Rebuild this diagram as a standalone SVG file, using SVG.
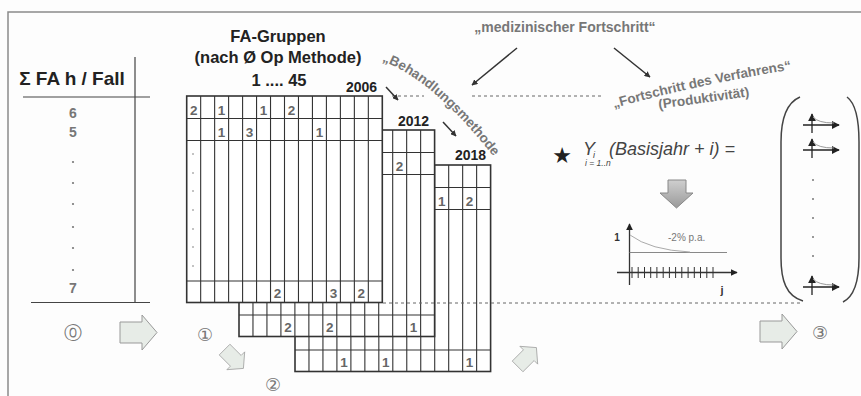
<svg xmlns="http://www.w3.org/2000/svg" width="861" height="396" viewBox="0 0 861 396">
<style>
text{font-family:"Liberation Sans",Arial,sans-serif}
.hd{font-size:16.5px;font-weight:bold;fill:#222;text-anchor:middle}
.yr{font-size:14px;font-weight:bold;fill:#222}
.num{font-size:13.5px;font-weight:bold;fill:#666;text-anchor:middle}
.tn{font-size:14px;font-weight:bold;fill:#777;text-anchor:middle}
.gl{stroke:#333;stroke-width:1.1;fill:none}
.gb{stroke:#333;stroke-width:1.6;fill:#fff}
.lbl{font-size:13.5px;font-weight:bold;fill:#777}
.circ{font-family:"DejaVu Sans",sans-serif;font-size:18px;fill:#777;text-anchor:middle}
.dash{stroke:#666;stroke-width:1;stroke-dasharray:3 3;fill:none}
.arr{stroke:#333;stroke-width:1.5;fill:none;marker-end:url(#ah)}
.blk{fill:#e7ece7;stroke:#999;stroke-width:1}
.ax{stroke:#333;stroke-width:1.3;fill:none}
.dot{fill:#777}
</style>
<defs>
<marker id="ah" viewBox="0 0 10 10" refX="9" refY="5" markerWidth="6" markerHeight="6" orient="auto" markerUnits="userSpaceOnUse">
<path d="M0 0L10 5L0 10z" fill="#333"/>
</marker>
<marker id="ah2" viewBox="0 0 10 10" refX="9" refY="5" markerWidth="7" markerHeight="7" orient="auto" markerUnits="userSpaceOnUse">
<path d="M0 0L10 5L0 10z" fill="#222"/>
</marker>
<marker id="ah3" viewBox="0 0 10 10" refX="9" refY="5" markerWidth="8" markerHeight="8" orient="auto" markerUnits="userSpaceOnUse">
<path d="M0 0L10 5L0 10z" fill="#222"/>
</marker>
<g id="gridT">
<rect x="0" y="0" width="195.6" height="206.5" class="gb"/>
<path class="gl" d="M0 22.5H195.6M0 44.5H195.6M0 185H195.6M13.97 0V206.5M27.94 0V206.5M41.91 0V206.5M55.89 0V206.5M69.86 0V206.5M83.83 0V206.5M97.8 0V206.5M111.77 0V206.5M125.74 0V206.5M139.71 0V206.5M153.69 0V206.5M167.66 0V206.5M181.63 0V206.5"/>
</g>
<polygon id="blkArrow" points="-18.5,-10.5 3.5,-10.5 3.5,-17.5 18.5,0 3.5,17.5 3.5,10.5 -18.5,10.5"/>
<g id="mini">
<path d="M812 8V-11" stroke="#222" stroke-width="1.3" marker-end="url(#ah3)"/>
<path d="M803 0H839" stroke="#222" stroke-width="1.3" marker-end="url(#ah3)"/>
<path d="M813 -8Q818 -2 834 -2" stroke="#999" stroke-width="1" fill="none"/>
</g>
<linearGradient id="gg" x1="0" y1="0" x2="0" y2="1">
<stop offset="0" stop-color="#cfcfcf"/>
<stop offset="1" stop-color="#9a9a9a"/>
</linearGradient>
</defs>

<rect x="0" y="0" width="861" height="396" fill="#fdfdfd"/>
<rect id="frame" x="8" y="12" width="870" height="400" fill="none" stroke="#8a8a8a" stroke-width="1.5"/>

<g id="table">
<text x="72" y="85" style="font-size:19px;font-weight:bold;fill:#222" text-anchor="middle">Σ FA h / Fall</text>
<path d="M135 57V303M23 97H150M31 302.5H150" stroke="#444" stroke-width="1.2" fill="none"/>
<text class="tn" x="73" y="118">6</text>
<text class="tn" x="73" y="137">5</text>
<circle class="dot" cx="73" cy="162" r="1.1"/>
<circle class="dot" cx="73" cy="183" r="1.1"/>
<circle class="dot" cx="73" cy="204" r="1.1"/>
<circle class="dot" cx="73" cy="227" r="1.1"/>
<circle class="dot" cx="73" cy="248" r="1.1"/>
<circle class="dot" cx="73" cy="270" r="1.1"/>
<text class="tn" x="73" y="293">7</text>
</g>

<g id="header">
<text class="hd" x="278" y="42">FA-Gruppen</text>
<text class="hd" x="278" y="63">(nach Ø Op Methode)</text>
<text class="hd" x="279" y="86">1 .... 45</text>
</g>

<g id="grid2018">
<use href="#gridT" x="295" y="165"/>
<text class="num" x="441.7" y="205.5">1</text>
<text class="num" x="469.6" y="205.5">2</text>
<text class="num" x="343.9" y="366.5">1</text>
<text class="num" x="385.8" y="366.5">1</text>
<text class="num" x="469.6" y="366.5">1</text>
<text class="yr" x="455" y="160">2018</text>
</g>

<g id="grid2012">
<use href="#gridT" x="239" y="130"/>
<text class="num" x="399.6" y="170.5">2</text>
<text class="num" x="287.9" y="331.5">2</text>
<text class="num" x="329.8" y="331.5">2</text>
<text class="num" x="413.6" y="331.5">1</text>
<text class="yr" x="398" y="126">2012</text>
</g>

<g id="grid2006">
<use href="#gridT" x="186.7" y="96"/>
<text class="num" x="193.7" y="115">2</text>
<text class="num" x="221.6" y="115">1</text>
<text class="num" x="263.5" y="115">1</text>
<text class="num" x="291.5" y="115">2</text>
<text class="num" x="221.6" y="136.5">1</text>
<text class="num" x="249.6" y="136.5">3</text>
<text class="num" x="319.4" y="136.5">1</text>
<text class="num" x="277.5" y="297.5">2</text>
<text class="num" x="333.4" y="297.5">3</text>
<text class="num" x="361.3" y="297.5">2</text>
<circle class="dot" cx="193" cy="154" r="0.8"/>
<circle class="dot" cx="193" cy="173" r="0.8"/>
<circle class="dot" cx="193" cy="191" r="0.8"/>
<circle class="dot" cx="193" cy="210" r="0.8"/>
<circle class="dot" cx="193" cy="229" r="0.8"/>
<circle class="dot" cx="193" cy="247" r="0.8"/>
<circle class="dot" cx="193" cy="266" r="0.8"/>
<text class="yr" x="346" y="92">2006</text>
</g>

<g id="labels">
<text class="lbl" x="565" y="32" text-anchor="middle" style="font-size:14px">„medizinischer Fortschritt“</text>
<path id="bhPath" d="M382 61Q432 79 494 157" fill="none"/>
<text class="lbl"><textPath href="#bhPath">„Behandlungsmethode“</textPath></text>
<path id="fsPath" d="M614 108Q700 84 790 70" fill="none"/>
<text class="lbl"><textPath href="#fsPath">„Fortschritt des Verfahrens“</textPath></text>
<text class="lbl" x="0" y="0" transform="translate(659 109) rotate(-8)">(Produktivität)</text>
</g>

<g id="formula">
<text x="562" y="163" style="font-family:'DejaVu Sans',sans-serif;font-size:22px;fill:#222" text-anchor="middle">★</text>
<text x="583" y="155" style="font-size:18px;font-style:italic;fill:#444">Y</text>
<text x="593" y="158" style="font-size:9px;font-style:italic;fill:#444">i</text>
<text x="609" y="155" style="font-size:18px;font-style:italic;fill:#444">(Basisjahr + i) =</text>
<text x="585" y="166" style="font-size:8.5px;font-style:italic;fill:#444">i = 1..n</text>
<path d="M668 180H686V193H693L676.5 208L660 193H668Z" fill="url(#gg)" stroke="#888" stroke-width="1"/>
</g>

<g id="chart">
<path d="M629.5 285V224" class="ax" marker-end="url(#ah2)"/>
<path d="M617 272.5H737" class="ax" marker-end="url(#ah2)"/>
<path d="M632 267V278M638.2 267V278M644.5 267V278M650.7 267V278M656.9 267V278M663.2 267V278M669.4 267V278M675.6 267V278M681.8 267V278M688.1 267V278M694.3 267V278M700.5 267V278M706.8 267V278M713 267V278" stroke="#333" stroke-width="1"/>
<path d="M629.5 252.5H727" stroke="#888" stroke-width="1.2"/>
<path d="M630 235Q650 250 690 252" stroke="#aaa" stroke-width="1" fill="none"/>
<text x="617" y="241" style="font-size:10px;font-weight:bold;fill:#333" text-anchor="middle">1</text>
<text x="668" y="241" style="font-size:10px;fill:#777">-2% p.a.</text>
<text x="722" y="294" style="font-size:11px;font-weight:bold;fill:#333" text-anchor="middle">j</text>
</g>

<g id="vector">
<path d="M800 97C786 103 781 120 781 142V258C781 280 786 296 803 301" stroke="#444" stroke-width="1.5" fill="none"/>
<path d="M847 97C855 103 859 120 859 142V258C859 280 855 296 843 302" stroke="#444" stroke-width="1.5" fill="none"/>
<use href="#mini" x="0" y="125"/>
<use href="#mini" x="0" y="150"/>
<use href="#mini" x="0" y="287"/>
<circle class="dot" cx="813" cy="180" r="1"/>
<circle class="dot" cx="813" cy="199" r="1"/>
<circle class="dot" cx="813" cy="218" r="1"/>
<circle class="dot" cx="813" cy="237" r="1"/>
<circle class="dot" cx="813" cy="256" r="1"/>
</g>

<g id="connectors">
<path class="dash" d="M392 96H424M472 96H603"/>
<path class="dash" d="M383 303H803"/>
<path class="arr" d="M386 87L398 100"/>
<path class="arr" d="M443 122L456 136"/>
<path class="arr" d="M517 48L472 85"/>
<path class="arr" d="M614 48L650 77"/>
<use href="#blkArrow" class="blk" transform="translate(138.5 332.5)"/>
<use href="#blkArrow" class="blk" transform="translate(234 359) rotate(45) scale(0.72)"/>
<use href="#blkArrow" class="blk" transform="translate(527 357) rotate(-45) scale(0.72)"/>
<use href="#blkArrow" class="blk" transform="translate(778.5 331.5)"/>
</g>

<g id="steps">
<text class="circ" x="73" y="339">⓪</text>
<text class="circ" x="205" y="341">①</text>
<text class="circ" x="273" y="391">②</text>
<text class="circ" x="820" y="339">③</text>
</g>
</svg>
